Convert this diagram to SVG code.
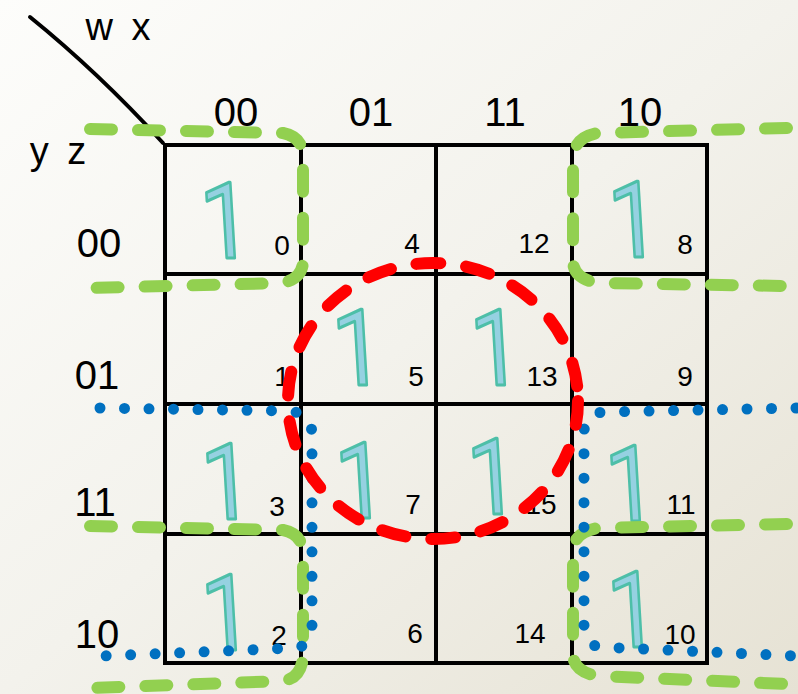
<svg xmlns="http://www.w3.org/2000/svg" width="798" height="694" viewBox="0 0 798 694">
<defs>
<linearGradient id="bg" x1="0" y1="0" x2="1" y2="1">
<stop offset="0" stop-color="#fdfdfb"/>
<stop offset="0.5" stop-color="#f3f2ec"/>
<stop offset="1" stop-color="#e6e2d4"/>
</linearGradient>
<style>
.grid{fill:none;stroke:#000;stroke-width:4}
.hdr{font-family:"Liberation Sans",Arial,sans-serif;font-size:40px;fill:#000;text-anchor:middle}
.var{font-family:"Liberation Sans",Arial,sans-serif;font-size:38px;fill:#000;text-anchor:middle;letter-spacing:4px}
.num{font-family:"Liberation Sans",Arial,sans-serif;font-size:28px;fill:#000;text-anchor:middle}
.one{font-family:Roboto,"Open Sans",sans-serif;font-size:106px;fill:#95d1e1;stroke:#4dbfa8;stroke-width:3;stroke-linejoin:round;text-anchor:middle}
.green{fill:none;stroke:#92d050;stroke-width:12;stroke-linecap:round;stroke-dasharray:22 26}
.blue{fill:none;stroke:#0070c0;stroke-width:11;stroke-linecap:round;stroke-dasharray:0 24.5}
.red{fill:none;stroke:#ff0000;stroke-width:12;stroke-linecap:round;stroke-dasharray:24 26}
</style>
</defs>
<rect width="798" height="694" fill="url(#bg)"/>
<g id="axes">
<path d="M30 17 Q98 72 163 143" fill="none" stroke="#000" stroke-width="4" stroke-linecap="round"/>
<text class="var" x="120" y="40">w x</text>
<text class="var" x="60" y="164">y z</text>
</g>
<g id="grid">
<rect class="grid" x="165" y="145" width="542" height="518"/>
<path class="grid" d="M301 145 V663 M436 145 V663 M572 145 V663 M165 274 H707 M165 404 H707 M165 534 H707"/>
</g>
<g id="headers">
<text class="hdr" x="236" y="126">00</text>
<text class="hdr" x="371" y="126">01</text>
<text class="hdr" x="505" y="126">11</text>
<text class="hdr" x="640" y="126">10</text>
<text class="hdr" x="99" y="257">00</text>
<text class="hdr" x="97" y="389">01</text>
<text class="hdr" x="95" y="516">11</text>
<text class="hdr" x="97" y="648">10</text>
</g>
<g id="cell0"><text class="one" transform="translate(228 258) scale(0.85 1) skewX(4)">1</text><text class="num" x="282" y="255">0</text></g>
<g id="cell4"><text class="num" x="412" y="253">4</text></g>
<g id="cell12"><text class="num" x="534" y="253">12</text></g>
<g id="cell8"><text class="one" transform="translate(636 257) scale(0.85 1) skewX(4)">1</text><text class="num" x="685" y="254">8</text></g>
<g id="cell1"><text class="num" x="282" y="386">1</text></g>
<g id="cell5"><text class="one" transform="translate(360 385) scale(0.85 1) skewX(4)">1</text><text class="num" x="416" y="386">5</text></g>
<g id="cell13"><text class="one" transform="translate(498 385) scale(0.85 1) skewX(4)">1</text><text class="num" x="542" y="386">13</text></g>
<g id="cell9"><text class="num" x="685" y="386">9</text></g>
<g id="cell3"><text class="one" transform="translate(229 519) scale(0.85 1) skewX(4)">1</text><text class="num" x="277" y="516">3</text></g>
<g id="cell7"><text class="one" transform="translate(363 518) scale(0.85 1) skewX(4)">1</text><text class="num" x="413" y="514">7</text></g>
<g id="cell15"><text class="one" transform="translate(495 514) scale(0.85 1) skewX(4)">1</text><text class="num" x="541" y="514">15</text></g>
<g id="cell11"><text class="one" transform="translate(633 521) scale(0.85 1) skewX(4)">1</text><text class="num" x="681" y="514">11</text></g>
<g id="cell2"><text class="one" transform="translate(229 650) scale(0.85 1) skewX(4)">1</text><text class="num" x="279" y="645">2</text></g>
<g id="cell6"><text class="num" x="415" y="643">6</text></g>
<g id="cell14"><text class="num" x="530" y="643">14</text></g>
<g id="cell10"><text class="one" transform="translate(635 647) scale(0.85 1) skewX(4)">1</text><text class="num" x="680" y="644">10</text></g>
<g id="connectors">
<path class="green" d="M90 129 L283 133 Q303 137 303 157 L303 262 Q302 279 282 283 L90 288"/>
<path class="green" d="M787 128 L598 133 Q574 137 573 158 L573 262 Q574 279 598 283 L787 286"/>
<path class="green" d="M90 526 L283 530 Q303 534 303 554 L303 655 Q302 678 283 681 L90 688"/>
<path class="green" d="M787 524 L598 528 Q574 532 573 550 L573 655 Q574 672 598 676 L787 684"/>
<path class="blue" d="M100 408 L290 411 Q312 414 312 435 L312 628 Q311 646 295 648 L103 656"/>
<path class="blue" d="M796 408 L602 412 Q584 416 584 433 L584 627 Q585 645 600 647 L796 656"/>
<ellipse class="red" cx="433" cy="401" rx="145" ry="138"/>
</g>
</svg>
